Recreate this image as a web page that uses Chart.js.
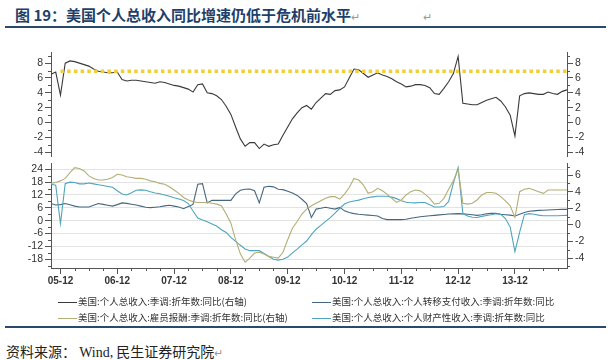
<!DOCTYPE html>
<html><head><meta charset="utf-8">
<script src="https://cdn.jsdelivr.net/npm/chart.js@4/dist/chart.umd.min.js"></script>
<style>
body{margin:0;width:611px;height:360px;background:#fff;position:relative;overflow:hidden;font-family:"Noto Sans CJK SC",sans-serif;}
#title{position:absolute;left:15px;top:5px;font-size:15px;line-height:20px;font-weight:bold;color:#1f3f6b;white-space:nowrap;}
.pm{color:#999;font-weight:normal;font-size:11px;}
#rule1{position:absolute;left:5px;width:601px;top:26px;height:2px;background:#2a4a6c;}
#rule2{position:absolute;left:5px;width:601px;top:326px;height:2px;background:#2a4a6c;}
#cTop{position:absolute;left:0;top:40px;}
#cBot{position:absolute;left:0;top:155px;}
.lg{position:absolute;font-size:9.5px;line-height:12px;color:#333;white-space:nowrap;}
.lg i{display:inline-block;width:19px;height:1px;vertical-align:middle;margin-right:1px;}
#source{position:absolute;left:6px;top:341px;font-size:14px;line-height:20px;color:#222;white-space:nowrap;}
</style></head>
<body>
<div id="title">图 19：美国个人总收入同比增速仍低于危机前水平<span class="pm">↵</span></div>
<div class="pm" style="position:absolute;left:423px;top:8px;">↵</div>
<div id="rule1"></div>
<canvas id="cTop" width="611" height="125"></canvas>
<canvas id="cBot" width="611" height="140"></canvas>
<div id="legend"></div>
<div id="rule2"></div>
<div id="source">资料来源： <span style="font-family:'Liberation Serif',serif">Wind,</span> 民生证券研究院<span class="pm">↵</span></div>
<script>
// ---- categories: monthly, 2005-10 .. 2014-11 ----
const months = [];
for (let y = 2005, m = 10; months.length < 110; ) {
  months.push(String(y % 100).padStart(2, '0') + '-' + String(m).padStart(2, '0'));
  m++; if (m > 12) { m = 1; y++; }
}

// ---- series ----
const totalIncome = [ // 美国:个人总收入:季调:折年数:同比 (右轴)
 6.5,6.8,3.7,8.0,8.3,8.2,8.0,7.8,7.6,7.2,
 6.9,6.8,6.7,6.7,6.8,5.8,5.6,5.7,5.7,5.6,
 5.5,5.4,5.3,5.5,5.4,5.2,5.0,4.9,4.7,4.5,
 4.1,5.1,5.2,4.0,3.9,3.6,3.1,2.2,1.1,-0.6,
 -2.2,-3.2,-2.7,-2.7,-3.5,-2.9,-3.2,-3.0,-2.9,-1.7,
 -0.6,0.5,1.3,2.0,2.3,1.8,2.7,3.3,3.9,3.8,
 4.3,4.4,4.8,6.0,7.2,7.1,6.6,6.1,6.4,6.7,
 6.4,6.2,5.9,5.5,5.2,4.8,4.9,5.1,5.1,5.0,
 4.7,3.9,3.8,4.6,5.5,6.6,8.9,2.6,2.5,2.4,
 2.4,2.7,3.0,3.2,3.4,2.9,2.1,1.0,-1.8,3.6,
 3.9,4.0,3.9,3.8,3.8,4.1,3.9,3.8,4.2,4.4];
const preCrisisLevel = 6.9;
const preCrisisFrom = '05-12', preCrisisTo = '14-11';

const compensation = [ // 雇员报酬 (右轴)
 5.0,5.1,5.3,5.6,6.3,6.9,6.8,6.5,5.9,5.6,
 5.4,5.4,5.5,5.7,6.1,6.0,5.8,5.7,5.6,5.6,
 5.5,5.3,5.2,5.0,4.9,4.6,4.2,3.8,3.3,3.0,
 2.8,2.7,2.7,2.7,2.6,2.5,2.3,1.3,0.2,-1.8,
 -3.5,-4.5,-4.0,-3.4,-3.3,-3.5,-3.8,-3.9,-4.0,-3.3,
 -1.8,-0.4,0.4,1.3,1.9,2.3,2.6,2.9,3.2,3.4,
 3.4,3.1,3.7,4.5,5.6,5.4,4.8,3.8,4.0,4.4,
 4.1,3.7,3.2,2.7,3.0,3.6,4.0,4.2,4.1,3.7,
 3.2,2.5,2.6,3.2,4.3,5.3,6.7,2.6,2.5,2.6,
 3.0,3.6,3.9,3.9,3.8,3.4,2.9,2.3,0.9,4.0,
 4.3,4.4,4.2,4.0,3.8,4.2,4.2,4.2,4.2,4.2];

const transfers = [ // 个人转移支付收入
 8.0,7.3,7.5,8.0,7.4,6.8,6.4,6.4,6.4,7.2,
 8.0,7.6,7.2,6.8,7.5,8.3,8.1,7.7,7.3,6.8,
 6.3,6.1,6.3,6.5,6.9,7.2,6.8,6.4,5.6,6.6,
 7.6,17.0,17.3,8.3,9.5,9.5,9.5,9.5,9.5,12.5,
 14.2,14.7,14.8,14.0,8.3,15.6,16.1,15.8,14.7,14.5,
 13.7,12.9,11.8,10.0,8.0,1.5,5.4,5.8,6.3,5.8,
 5.4,6.2,4.6,3.8,3.3,3.0,2.8,2.6,2.4,2.2,
 1.0,0.5,0.5,0.5,0.5,0.7,1.1,1.5,1.8,2.1,
 2.3,2.5,2.7,2.9,3.1,3.2,3.3,3.2,3.0,2.8,
 2.5,2.8,3.2,3.5,3.4,3.0,2.8,2.6,2.2,3.0,
 3.8,4.4,4.6,4.8,4.9,5.0,5.1,5.2,5.3,5.3];

const property = [ // 个人财产性收入
 17.0,16.6,-1.4,17.3,18.0,17.8,17.2,17.2,17.6,17.2,
 16.8,16.4,16.0,15.6,14.0,12.5,12.0,13.0,14.2,14.4,
 14.2,13.5,12.9,12.6,12.0,11.4,10.7,10.1,9.4,8.0,
 4.5,1.2,0.3,-0.5,-1.5,-2.5,-4.2,-5.5,-7.8,-9.7,
 -11.5,-13.2,-14.0,-14.0,-14.0,-15.3,-16.7,-18.0,-18.4,-18.0,
 -17.0,-15.0,-13.3,-11.3,-9.5,-6.5,-4.0,-2.2,-0.3,1.4,
 3.5,5.8,7.8,8.7,9.2,9.6,10.2,10.8,11.1,11.4,
 11.4,11.4,11.0,10.3,9.3,8.6,8.4,8.3,8.5,8.5,
 7.4,6.4,6.4,6.6,9.0,17.5,24.8,3.3,2.2,1.6,
 1.5,2.0,2.4,2.8,3.2,3.0,1.0,-3.0,-14.5,-5.3,
 2.8,3.3,3.0,2.6,2.3,2.3,2.3,2.3,2.4,2.5];

// ---- tick labels ----
const topTicks = [-4,-2,0,2,4,6,8];
const topMinor = [-3,-1,1,3,5,7,9];
const botLeftTicks = [-18,-12,-6,0,6,12,18,24];
const botLeftMinor = [-21,-15,-9,-3,3,9,15,21];
const botRightTicks = [-4,-2,0,2,4,6];
const botRightMinor = [-5,-3,-1,1,3,5,7];
const xTickLabels = months.filter(m => m.endsWith('-12'));
const xMinor = months.map((m,i)=>[m,i]).filter(([m]) => /-(03|06|09)$/.test(m)).map(([,i])=>i);

const names = ['美国:个人总收入:季调:折年数:同比(右轴)','美国:个人总收入:个人转移支付收入:季调:折年数:同比',
               '美国:个人总收入:雇员报酬:季调:折年数:同比(右轴)','美国:个人总收入:个人财产性收入:季调:折年数:同比'];
const colors = ['#3a3a3a','#47677f','#b3ae76','#4fa5bd'];

Chart.defaults.font.family = "'Liberation Sans', Arial, sans-serif";
Chart.defaults.font.size = 10.5;
Chart.defaults.color = '#333';

const minorTicks = {
  id: 'minorTicks',
  afterDraw(chart, args, opts) {
    const ctx = chart.ctx;
    ctx.save(); ctx.strokeStyle = '#555'; ctx.lineWidth = 1; ctx.beginPath();
    (opts.list || []).forEach(({scale, values, len}) => {
      const s = chart.scales[scale];
      values.forEach(v => {
        if (s.isHorizontal()) {
          const x = Math.round(s.getPixelForValue(v)) + 0.5;
          ctx.moveTo(x, s.top); ctx.lineTo(x, s.top + len);
        } else {
          const y = Math.round(s.getPixelForValue(v)) + 0.5;
          if (y < s.top - 0.5 || y > s.bottom + 0.5) return;
          if (s.position === 'left') { ctx.moveTo(s.right - len, y); ctx.lineTo(s.right, y); }
          else { ctx.moveTo(s.left, y); ctx.lineTo(s.left + len, y); }
        }
      });
    });
    ctx.stroke(); ctx.restore();
  }
};

function yAxis(pos, min, max, ticks, grid) {
  return {
    position: pos, min, max,
    afterFit: s => { s.width = pos === 'left' ? 51 : 44; },
    afterBuildTicks: s => { s.ticks = ticks.map(v => ({value: v})); },
    border: {display: true, color: '#555', width: 1},
    grid: {drawOnChartArea: grid, color: '#e3e3e3', tickColor: '#555', tickLength: 6, drawTicks: true},
    ticks: {autoSkip: false, padding: 2, color: '#333', font: {size: 10.5}}
  };
}

const lineDs = (label, data, color, axis) => ({
  label, data, borderColor: color, backgroundColor: color, borderWidth: 1.1,
  pointRadius: 0, tension: 0, yAxisID: axis, fill: false
});

new Chart(document.getElementById('cTop'), {
  type: 'line',
  data: {
    labels: months,
    datasets: [
      {label: '危机前水平', data: [{x: preCrisisFrom, y: preCrisisLevel}, {x: preCrisisTo, y: preCrisisLevel}],
       borderColor: '#f0cf3c', borderWidth: 3.5, borderDash: [3.5, 3.2], pointRadius: 0, yAxisID: 'yR', spanGaps: true},
      lineDs(names[0], totalIncome, colors[0], 'yR')
    ]
  },
  options: {
    responsive: false, animation: false,
    layout: {padding: {top: 12, bottom: 3, left: 0, right: 0}},
    plugins: {legend: {display: false}, tooltip: {enabled: false},
      minorTicks: {list: [{scale: 'yL', values: topMinor, len: 3}, {scale: 'yR', values: topMinor, len: 3}]}},
    scales: {
      x: {type: 'category', display: false},
      yL: yAxis('left', -4.6, 9.5, topTicks, false),
      yR: yAxis('right', -4.6, 9.5, topTicks, false)
    }
  },
  plugins: [minorTicks]
});

new Chart(document.getElementById('cBot'), {
  type: 'line',
  data: {
    labels: months,
    datasets: [
      lineDs(names[2], compensation, colors[2], 'yR'),
      lineDs(names[3], property, colors[3], 'yL'),
      lineDs(names[1], transfers, colors[1], 'yL')
    ]
  },
  options: {
    responsive: false, animation: false,
    layout: {padding: {top: 8, bottom: 0, left: 0, right: 0}},
    plugins: {legend: {display: false}, tooltip: {enabled: false},
      minorTicks: {list: [{scale: 'yL', values: botLeftMinor, len: 3}, {scale: 'yR', values: botRightMinor, len: 3},
                          {scale: 'x', values: xMinor, len: 3}]}},
    scales: {
      x: {
        type: 'category',
        afterFit: s => { s.height = 27; },
        afterBuildTicks: s => { s.ticks = xTickLabels.map(l => ({value: months.indexOf(l)})); },
        border: {display: true, color: '#555', width: 1},
        grid: {drawOnChartArea: false, tickColor: '#555', tickLength: 6},
        ticks: {autoSkip: false, maxRotation: 0, padding: 1, color: '#333', font: {size: 10, weight: 'bold'}}
      },
      yL: yAxis('left', -22.1, 26.8, botLeftTicks, true),
      yR: yAxis('right', -5.2, 7.42, botRightTicks, false)
    }
  },
  plugins: [minorTicks]
});

// ---- legend (HTML, from names/colors) ----
const lgPos = [[58, 295], [312, 295], [58, 311], [312, 311]];
const lg = document.getElementById('legend');
names.forEach((n, i) => {
  const d = document.createElement('div');
  d.className = 'lg';
  d.style.left = lgPos[i][0] + 'px'; d.style.top = lgPos[i][1] + 'px';
  d.innerHTML = '<i style="background:' + colors[i] + '"></i>' + n;
  lg.appendChild(d);
});
</script>
</body></html>
